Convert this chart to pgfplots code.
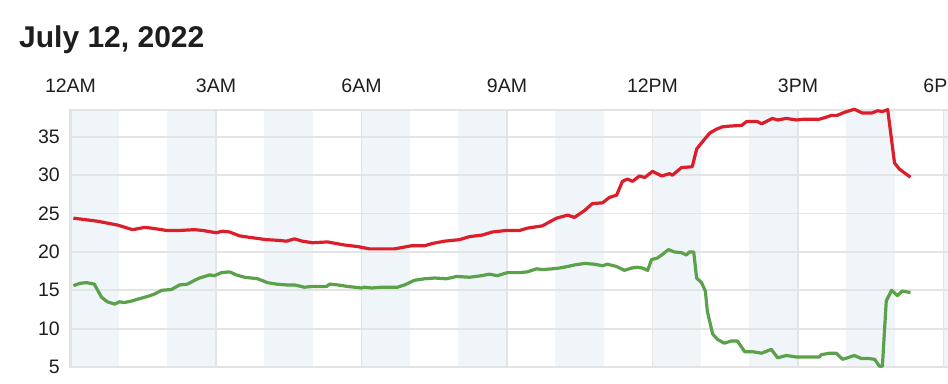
\documentclass[border=0pt]{standalone}
\usepackage{fontspec}
\setmainfont{Liberation Sans}
\usepackage{pgfplots}
\pgfplotsset{compat=1.18}
\definecolor{bandblue}{HTML}{F0F5FA}
\definecolor{gridgray}{HTML}{E4E4E4}
\definecolor{framegray}{HTML}{E3E3E3}
\definecolor{tempred}{HTML}{DC1E2A}
\definecolor{dewgreen}{HTML}{5AA14A}
\definecolor{txt}{HTML}{1E1E1E}
\begin{document}
\begin{tikzpicture}
\begin{axis}[
  set layers,
  scale only axis,
  width=877.5pt, height=257pt,
  xmin=0, xmax=18.093,
  ymin=5, ymax=38.5,
  clip=false,
  axis line style={draw=none},
  xtick={0,3,6,9,12,15,18},
  xticklabels={12AM,3AM,6AM,9AM,12PM,3PM,6PM},
  xticklabel pos=upper,
  ytick={5,10,15,20,25,30,35},
  major tick length=0pt,
  grid=major,
  major grid style={draw=gridgray, line width=1.8pt},
  /pgf/number format/assume math mode=true,
  tick label style={font=\fontsize{19.5}{22}\selectfont, text=txt},
  xticklabel style={anchor=base, inner sep=0pt, yshift=17pt},
  yticklabel style={anchor=east, inner sep=0pt, xshift=-10.5pt},
]
\begin{pgfonlayer}{axis background}
\fill[bandblue] (axis cs:0,5) rectangle (axis cs:1,38.5);
\fill[bandblue] (axis cs:2,5) rectangle (axis cs:3,38.5);
\fill[bandblue] (axis cs:4,5) rectangle (axis cs:5,38.5);
\fill[bandblue] (axis cs:6,5) rectangle (axis cs:7,38.5);
\fill[bandblue] (axis cs:8,5) rectangle (axis cs:9,38.5);
\fill[bandblue] (axis cs:10,5) rectangle (axis cs:11,38.5);
\fill[bandblue] (axis cs:12,5) rectangle (axis cs:13,38.5);
\fill[bandblue] (axis cs:14,5) rectangle (axis cs:15,38.5);
\fill[bandblue] (axis cs:16,5) rectangle (axis cs:17,38.5);
\fill[bandblue] (axis cs:18,5) rectangle (axis cs:18.093,38.5);
\end{pgfonlayer}
\draw[framegray, line width=2.5pt] (rel axis cs:1,0) -- (rel axis cs:0,0) -- (rel axis cs:0,1) -- (rel axis cs:1,1);
\coordinate (bl) at (rel axis cs:0,0);
\coordinate (tr) at (rel axis cs:1,1);
\node[anchor=base west, inner sep=0pt, font=\fontsize{30}{34}\selectfont\bfseries, text=txt] at ([xshift=-51.5pt, yshift=62.3pt]rel axis cs:0,1) {July 12, 2022};

\addplot[tempred, line width=3.2pt, line join=round] coordinates {
(0.06,24.4) (0.56,24.0) (0.97,23.5) (1.28,22.9) (1.53,23.2) (1.67,23.1) (1.98,22.8) (2.25,22.8)
(2.56,22.9) (2.72,22.8) (3.01,22.5) (3.13,22.7) (3.28,22.6) (3.48,22.1) (3.69,21.9) (4.04,21.6)
(4.31,21.5) (4.45,21.4) (4.62,21.7) (4.78,21.4) (4.99,21.2) (5.30,21.3) (5.65,20.9) (5.92,20.7)
(6.16,20.4) (6.47,20.4) (6.68,20.4) (7.03,20.8) (7.30,20.8) (7.46,21.1) (7.71,21.4) (8.02,21.6)
(8.23,22.0) (8.49,22.2) (8.70,22.6) (8.99,22.8) (9.26,22.8) (9.42,23.1) (9.73,23.4) (10.02,24.4)
(10.25,24.8) (10.39,24.5) (10.60,25.4) (10.76,26.3) (10.97,26.4) (11.11,27.1) (11.26,27.4) (11.38,29.2)
(11.48,29.5) (11.59,29.2) (11.73,29.9) (11.84,29.7) (12.00,30.5) (12.19,29.9) (12.35,30.2) (12.41,30.0)
(12.60,31.0) (12.82,31.1) (12.91,33.4) (13.01,34.2) (13.18,35.5) (13.32,36.0) (13.44,36.3) (13.59,36.4)
(13.84,36.5) (13.94,37.0) (14.16,37.0) (14.25,36.7) (14.47,37.4) (14.58,37.2) (14.76,37.4) (14.97,37.2)
(15.13,37.3) (15.44,37.3) (15.55,37.5) (15.69,37.8) (15.81,37.8) (15.96,38.2) (16.16,38.6) (16.33,38.1)
(16.52,38.1) (16.64,38.4) (16.74,38.3) (16.85,38.55) (16.99,31.6) (17.09,30.8) (17.24,30.1) (17.32,29.75)
};
\addplot[dewgreen, line width=3.2pt, line join=round] coordinates {
(0.06,15.6) (0.19,15.9) (0.33,16.0) (0.49,15.8) (0.64,14.1) (0.76,13.5) (0.91,13.2) (1.01,13.5)
(1.11,13.4) (1.26,13.6) (1.42,13.9) (1.59,14.2) (1.73,14.5) (1.88,15.0) (2.08,15.1) (2.25,15.7)
(2.41,15.8) (2.56,16.3) (2.66,16.6) (2.87,17.0) (2.97,16.9) (3.11,17.3) (3.28,17.4) (3.42,17.0)
(3.59,16.7) (3.86,16.5) (4.06,16.0) (4.25,15.8) (4.45,15.7) (4.62,15.7) (4.82,15.4) (4.99,15.5)
(5.28,15.5) (5.34,15.8) (5.51,15.7) (5.71,15.5) (6.00,15.3) (6.06,15.4) (6.21,15.3) (6.41,15.4)
(6.74,15.4) (6.89,15.7) (7.09,16.3) (7.30,16.5) (7.51,16.6) (7.75,16.5) (7.96,16.8) (8.23,16.7)
(8.47,16.9) (8.64,17.1) (8.80,16.9) (9.01,17.3) (9.26,17.3) (9.42,17.4) (9.61,17.8) (9.73,17.7)
(9.94,17.8) (10.08,17.9) (10.25,18.1) (10.39,18.3) (10.60,18.5) (10.80,18.4) (10.97,18.2) (11.07,18.4)
(11.26,18.1) (11.42,17.6) (11.57,17.9) (11.69,18.0) (11.79,17.9) (11.90,17.6) (11.98,19.0) (12.10,19.2)
(12.21,19.7) (12.33,20.3) (12.45,20.0) (12.60,19.9) (12.70,19.6) (12.76,20.0) (12.85,20.0) (12.91,16.6)
(13.01,16.0) (13.09,14.9) (13.13,12.3) (13.24,9.3) (13.34,8.6) (13.48,8.1) (13.63,8.4) (13.75,8.4)
(13.90,7.0) (14.06,7.0) (14.25,6.8) (14.45,7.3) (14.58,6.2) (14.76,6.5) (14.97,6.3) (15.24,6.3)
(15.44,6.3) (15.48,6.6) (15.65,6.8) (15.79,6.8) (15.92,6.0) (16.02,6.2) (16.16,6.5) (16.31,6.1)
(16.47,6.1) (16.58,6.0) (16.68,5.1) (16.74,5.1) (16.82,13.6) (16.93,15.0) (17.05,14.3) (17.15,14.9)
(17.32,14.7)
};
\end{axis}
\pgfresetboundingbox
\path ([xshift=-70.5pt, yshift=-16pt]bl) rectangle ([yshift=110pt]tr);
\end{tikzpicture}
\end{document}
